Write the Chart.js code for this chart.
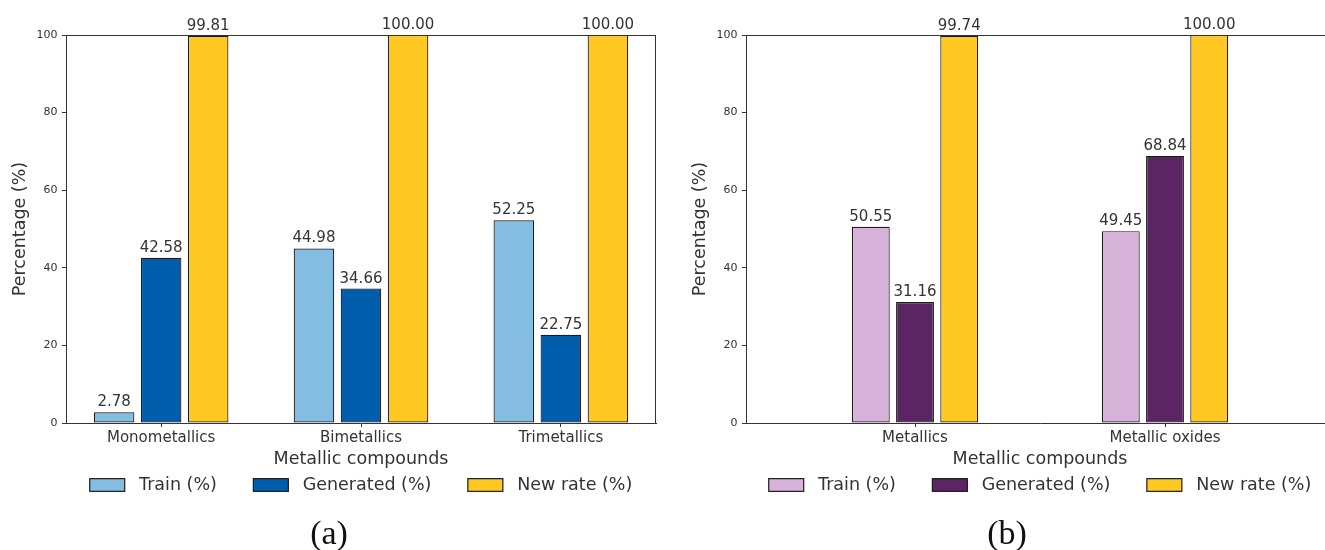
<!DOCTYPE html>
<html>
<head>
<meta charset="utf-8">
<script src="https://cdn.jsdelivr.net/npm/chart.js@4.4.1/dist/chart.umd.min.js"></script>
<style>
  html, body { margin: 0; padding: 0; background: #fff; overflow: hidden; width: 1325px; height: 550px; }
  canvas { position: absolute; top: 0; }
  #panelA { left: 0; }
  #panelB { left: 680px; }
  .caption {
    position: absolute; top: 514px; height: 38px; line-height: 38px;
    font-family: "Liberation Serif", "DejaVu Serif", serif; font-size: 34px; color: #111;
    transform: translateX(-50%); white-space: nowrap;
  }
</style>
</head>
<body>
<canvas id="panelA" width="662" height="550"></canvas>
<canvas id="panelB" width="660" height="550"></canvas>
<div class="caption" style="left:329px">(a)</div>
<div class="caption" style="left:1007px">(b)</div>

<script>
// Panel (a): mono / bi / trimetallic compounds
const categoriesA = ['Monometallics', 'Bimetallics', 'Trimetallics'];
const trainA      = [2.78, 44.98, 52.25];
const generatedA  = [42.58, 34.66, 22.75];
const newRateA    = [99.81, 100.00, 100.00];

// Panel (b): metallics vs metallic oxides
const categoriesB = ['Metallics', 'Metallic oxides'];
const trainB      = [50.55, 49.45];
const generatedB  = [31.16, 68.84];
const newRateB    = [99.74, 100.00];

const seriesNames = ['Train (%)', 'Generated (%)', 'New rate (%)'];
const yTickValues = [0, 20, 40, 60, 80, 100];

const FONT = '"DejaVu Sans", "Liberation Sans", sans-serif';
const INK = '#333333';
const EDGE = '#1c1c1c';

// Value labels over bars, the closed axes frame and a boxed legend under the axis title
const panelDecor = {
  id: 'panelDecor',
  afterDatasetsDraw(chart) {
    const ctx = chart.ctx;
    const area = chart.chartArea;
    ctx.save();
    // top and right spines
    ctx.strokeStyle = INK;
    ctx.lineWidth = 1;
    ctx.beginPath();
    ctx.moveTo(area.left, area.top + 0.5);
    ctx.lineTo(area.right, area.top + 0.5);
    ctx.moveTo(area.right - 0.5, area.top);
    ctx.lineTo(area.right - 0.5, area.bottom);
    ctx.stroke();

    // bar value labels
    ctx.fillStyle = INK;
    ctx.font = '15px ' + FONT;
    ctx.textAlign = 'center';
    ctx.textBaseline = 'alphabetic';
    chart.data.datasets.forEach((ds, di) => {
      const meta = chart.getDatasetMeta(di);
      meta.data.forEach((bar, i) => {
        ctx.fillText(ds.data[i].y.toFixed(2), bar.x, bar.y - 6);
      });
    });

    // legend
    const boxW = 35, boxH = 12.7, boxGap = 14.3, itemGap = 36.5;
    ctx.font = '17.5px ' + FONT;
    const widths = chart.data.datasets.map(ds => ctx.measureText(ds.label).width);
    const total = widths.reduce((s, w) => s + boxW + boxGap + w, 0) + itemGap * (widths.length - 1);
    let x = (area.left + area.right) / 2 - total / 2;
    const cy = area.bottom + 62;
    ctx.textAlign = 'left';
    ctx.textBaseline = 'middle';
    chart.data.datasets.forEach((ds, di) => {
      ctx.fillStyle = ds.backgroundColor;
      ctx.fillRect(x, cy - boxH / 2, boxW, boxH);
      ctx.strokeStyle = EDGE;
      ctx.lineWidth = 1.2;
      ctx.strokeRect(x, cy - boxH / 2, boxW, boxH);
      ctx.fillStyle = INK;
      ctx.fillText(ds.label, x + boxW + boxGap, cy + 0.5);
      x += boxW + boxGap + widths[di] + itemGap;
    });
    ctx.restore();
  }
};

function makePanel(canvasId, categories, series, colors, xRange, catPct, barPct) {
  const datasets = series.map((values, s) => ({
    label: seriesNames[s],
    data: categories.map((c, i) => ({ x: i, y: values[i] })),
    backgroundColor: colors[s],
    borderColor: EDGE,
    borderWidth: 1.2,
    borderSkipped: false,
    categoryPercentage: catPct,
    barPercentage: barPct
  }));

  return new Chart(document.getElementById(canvasId), {
    type: 'bar',
    data: { datasets },
    plugins: [panelDecor],
    options: {
      responsive: false,
      animation: false,
      events: [],
      layout: { padding: { top: 35, bottom: 80, left: 0, right: 6 } },
      plugins: { legend: { display: false }, tooltip: { enabled: false } },
      scales: {
        x: {
          type: 'linear',
          offset: false,
          min: xRange[0],
          max: xRange[1],
          afterBuildTicks: scale => { scale.ticks = categories.map((c, i) => ({ value: i })); },
          afterFit: scale => { scale.height = 47; },
          ticks: {
            autoSkip: false,
            maxRotation: 0,
            padding: 2,
            color: INK,
            font: { family: FONT, size: 15 },
            callback: v => categories[v]
          },
          grid: { offset: false, drawOnChartArea: false, drawTicks: true, tickLength: 4, color: INK, lineWidth: 1 },
          border: { display: true, color: INK, width: 1 },
          title: {
            display: true,
            text: 'Metallic compounds',
            color: INK,
            font: { family: FONT, size: 17.5 },
            padding: { top: 0, bottom: 0 }
          }
        },
        y: {
          min: 0,
          max: 100,
          afterBuildTicks: scale => { scale.ticks = yTickValues.map(v => ({ value: v })); },
          afterFit: scale => { scale.width = 66; },
          ticks: {
            padding: 4.5,
            color: INK,
            font: { family: FONT, size: 11 }
          },
          grid: { drawOnChartArea: false, drawTicks: true, tickLength: 4, color: INK, lineWidth: 1 },
          border: { display: true, color: INK, width: 1 },
          title: {
            display: true,
            text: 'Percentage (%)',
            color: INK,
            font: { family: FONT, size: 17.5 },
            padding: { top: 10, bottom: 0 }
          }
        }
      }
    }
  });
}

makePanel('panelA', categoriesA, [trainA, generatedA, newRateA],
  ['#85bce2', '#005dab', '#ffc822'], [-0.476, 2.476], 0.706, 0.862);

makePanel('panelB', categoriesB, [trainB, generatedB, newRateB],
  ['#d7b3da', '#5b2563', '#ffc822'], [-0.676, 1.676], 0.5305, 0.857);
</script>
</body>
</html>
